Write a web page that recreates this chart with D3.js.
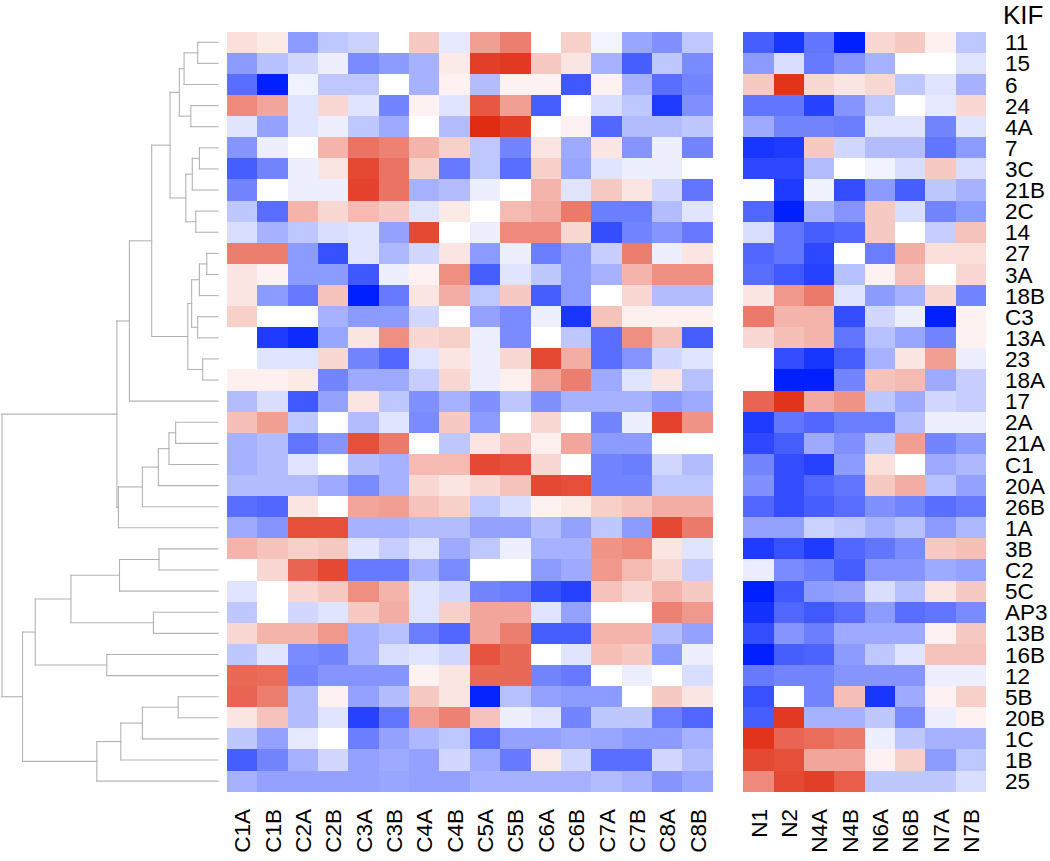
<!DOCTYPE html>
<html>
<head>
<meta charset="utf-8">
<script src="https://cdn.jsdelivr.net/npm/d3@7"></script>
<style>
  html, body { margin: 0; padding: 0; background: #ffffff; }
  svg { display: block; }
  text { font-family: "Liberation Sans", Arial, sans-serif; fill: #000; }
</style>
</head>
<body>
<svg id="chart" width="1050" height="861"></svg>
<script>
// ---------------- DATA ----------------
const rowLabels = ["11","15","6","24","4A","7","3C","21B","2C","14","27","3A","18B","C3","13A","23","18A","17","2A","21A","C1","20A","26B","1A","3B","C2","5C","AP3","13B","16B","12","5B","20B","1C","1B","25"];
const colsC = ["C1A","C1B","C2A","C2B","C3A","C3B","C4A","C4B","C5A","C5B","C6A","C6B","C7A","C7B","C8A","C8B"];
const colsN = ["N1","N2","N4A","N4B","N6A","N6B","N7A","N7B"];
const rowTitle = "KIF";

// relative expression (blue = low, red = high), one row per KIF gene
const valuesC = [
  [ 0.15, 0.10,-0.45,-0.25,-0.20, 0.00, 0.25,-0.10, 0.45, 0.60, 0.00, 0.22,-0.05,-0.40,-0.50,-0.25],
  [-0.45,-0.28,-0.18,-0.07,-0.52,-0.45,-0.35, 0.10, 0.90, 0.92, 0.25, 0.12,-0.35,-0.72,-0.25,-0.52],
  [-0.65,-1.00,-0.06,-0.25,-0.25, 0.00,-0.35, 0.06,-0.30, 0.06, 0.06,-0.75, 0.06,-0.35,-0.65,-0.55],
  [ 0.55, 0.42,-0.12, 0.18,-0.12,-0.55, 0.06,-0.12, 0.78, 0.45,-0.72, 0.00,-0.15,-0.25,-0.88,-0.50],
  [-0.12,-0.42,-0.12,-0.07,-0.25,-0.38, 0.00,-0.30, 0.98, 0.90, 0.00, 0.06,-0.68,-0.30,-0.30,-0.25],
  [-0.48,-0.07, 0.00, 0.35, 0.65, 0.58, 0.35, 0.22,-0.25,-0.55, 0.12,-0.38, 0.12,-0.48,-0.07,-0.55],
  [-0.72,-0.55,-0.07, 0.12, 0.85, 0.65, 0.22,-0.60,-0.25,-0.65, 0.22,-0.40,-0.12,-0.07,-0.07, 0.00],
  [-0.55, 0.00,-0.07,-0.07, 0.88, 0.65,-0.35,-0.30,-0.07, 0.00, 0.35,-0.12, 0.25, 0.12,-0.18,-0.62],
  [-0.25,-0.65, 0.35, 0.18, 0.32, 0.25,-0.12, 0.10, 0.00, 0.32, 0.38, 0.62,-0.58,-0.58,-0.30,-0.12],
  [-0.15,-0.35,-0.25,-0.15,-0.12,-0.42, 0.85, 0.00,-0.07, 0.55, 0.55, 0.18,-0.80,-0.55,-0.48,-0.60],
  [ 0.60, 0.60,-0.45,-0.78,-0.12,-0.32,-0.18, 0.12,-0.45,-0.07,-0.58,-0.45,-0.22, 0.60,-0.07, 0.12],
  [ 0.12, 0.06,-0.45,-0.45,-0.75,-0.07, 0.06, 0.52,-0.72,-0.12,-0.25,-0.45,-0.35, 0.35, 0.52, 0.52],
  [ 0.12,-0.45,-0.60, 0.28,-1.00,-0.60, 0.12, 0.38,-0.25, 0.25,-0.72,-0.45, 0.00, 0.18,-0.30,-0.30],
  [ 0.22, 0.00, 0.00,-0.35,-0.45,-0.45,-0.18, 0.00,-0.42,-0.52,-0.07,-0.90, 0.28, 0.07, 0.07, 0.07],
  [ 0.00,-0.88,-0.95,-0.40, 0.12, 0.52, 0.18, 0.22,-0.07,-0.52, 0.00,-0.25,-0.65, 0.52, 0.28,-0.72],
  [ 0.00,-0.12,-0.12, 0.18,-0.55,-0.68,-0.12, 0.12,-0.07, 0.18, 0.85, 0.38,-0.65,-0.48,-0.18,-0.12],
  [ 0.07, 0.07, 0.10,-0.55,-0.38,-0.38,-0.22, 0.18,-0.07, 0.07, 0.42, 0.60,-0.38,-0.12, 0.12,-0.28],
  [-0.30,-0.15,-0.75,-0.42, 0.12,-0.25,-0.50,-0.35,-0.50,-0.25,-0.50,-0.35,-0.35,-0.35,-0.45,-0.38],
  [ 0.30, 0.45,-0.25, 0.00,-0.30,-0.12,-0.52, 0.25,-0.45, 0.00, 0.18, 0.00,-0.55,-0.07, 0.88, 0.50],
  [-0.35,-0.30,-0.62,-0.48, 0.82, 0.62, 0.00,-0.25, 0.12, 0.25, 0.07, 0.42,-0.45,-0.45, 0.00, 0.00],
  [-0.35,-0.30,-0.12, 0.00,-0.30,-0.35, 0.32, 0.32, 0.85, 0.82, 0.18, 0.00,-0.55,-0.58,-0.18,-0.30],
  [-0.30,-0.30,-0.30,-0.38,-0.52,-0.35, 0.18, 0.12, 0.18, 0.28, 0.85, 0.82,-0.55,-0.55,-0.25,-0.25],
  [-0.65,-0.68, 0.12, 0.00, 0.42, 0.45, 0.28, 0.22,-0.25,-0.15, 0.06, 0.10, 0.22, 0.28, 0.38, 0.38],
  [-0.38,-0.48, 0.82, 0.82,-0.35,-0.35,-0.30,-0.30,-0.42,-0.42,-0.30,-0.42,-0.25,-0.45, 0.85, 0.62],
  [ 0.35, 0.28, 0.22, 0.25,-0.12,-0.22,-0.12,-0.38,-0.25,-0.07,-0.35,-0.35, 0.50, 0.55, 0.12,-0.12],
  [ 0.00, 0.18, 0.72, 0.85,-0.60,-0.60,-0.35,-0.52, 0.00, 0.00,-0.45,-0.38, 0.48, 0.32, 0.18,-0.22],
  [-0.12, 0.00, 0.18, 0.25, 0.52, 0.35,-0.12,-0.18,-0.55,-0.58,-0.78,-0.85, 0.28, 0.18, 0.35, 0.25],
  [-0.25, 0.00,-0.18,-0.12, 0.25, 0.38,-0.12, 0.22, 0.42, 0.42,-0.12,-0.42, 0.00, 0.00, 0.58, 0.48],
  [ 0.18, 0.35, 0.35, 0.48,-0.35,-0.28,-0.58,-0.68, 0.42, 0.60,-0.72,-0.72, 0.35, 0.35,-0.30,-0.42],
  [-0.25,-0.12,-0.52,-0.55,-0.35,-0.15,-0.12,-0.18, 0.80, 0.70, 0.00,-0.12, 0.30, 0.25,-0.45,-0.07],
  [ 0.70, 0.68,-0.55,-0.48,-0.48,-0.48, 0.06, 0.12, 0.70, 0.70,-0.55,-0.60, 0.00,-0.07, 0.00,-0.15],
  [ 0.72, 0.60,-0.30, 0.06,-0.42,-0.30, 0.25, 0.12,-0.98,-0.28,-0.42,-0.45,-0.45, 0.00, 0.25, 0.12],
  [ 0.12, 0.28,-0.30,-0.12,-0.85,-0.62, 0.45, 0.58, 0.28,-0.07,-0.12,-0.55,-0.25,-0.25,-0.58,-0.68],
  [-0.25,-0.42,-0.10, 0.00,-0.58,-0.42,-0.32,-0.25,-0.65,-0.42,-0.42,-0.38,-0.40,-0.45,-0.45,-0.35],
  [-0.72,-0.55,-0.35,-0.18,-0.42,-0.38,-0.42,-0.18,-0.38,-0.60, 0.10,-0.18,-0.65,-0.65,-0.18,-0.30],
  [-0.35,-0.42,-0.42,-0.42,-0.42,-0.40,-0.42,-0.42,-0.35,-0.35,-0.35,-0.35,-0.30,-0.35,-0.48,-0.40]
];

const valuesN = [
  [-0.72,-0.90,-0.62,-1.00, 0.18, 0.25, 0.07,-0.25],
  [-0.45,-0.15,-0.60,-0.48,-0.35, 0.00, 0.00,-0.12],
  [ 0.25, 0.95, 0.18, 0.12, 0.18,-0.25,-0.12,-0.35],
  [-0.62,-0.62,-0.85,-0.48,-0.25, 0.00,-0.10, 0.18],
  [-0.38,-0.55,-0.55,-0.58,-0.12,-0.12,-0.55,-0.12],
  [-0.90,-0.88, 0.25,-0.18,-0.30,-0.30,-0.62,-0.45],
  [-0.82,-0.82,-0.30, 0.00,-0.06,-0.15, 0.25,-0.15],
  [ 0.00,-0.88,-0.06,-0.80,-0.45,-0.72,-0.25,-0.35],
  [-0.68,-1.00,-0.35,-0.48, 0.25,-0.15,-0.55,-0.45],
  [-0.15,-0.62,-0.72,-0.68, 0.25, 0.00,-0.22, 0.28],
  [-0.68,-0.62,-0.82, 0.00,-0.58, 0.38, 0.15, 0.15],
  [-0.65,-0.75,-0.85,-0.28, 0.06, 0.28, 0.00, 0.18],
  [ 0.12, 0.48, 0.62,-0.12,-0.45,-0.35, 0.18,-0.55],
  [ 0.62, 0.35, 0.35,-0.80,-0.18,-0.07,-1.00, 0.06],
  [ 0.18, 0.30, 0.35,-0.62,-0.28,-0.40,-0.55, 0.06],
  [ 0.00,-0.80,-0.90,-0.72,-0.35, 0.12, 0.45,-0.07],
  [ 0.00,-1.00,-1.00,-0.55, 0.28, 0.32,-0.38,-0.22],
  [ 0.72, 0.95, 0.40, 0.50,-0.25,-0.38,-0.18,-0.22],
  [-0.88,-0.62,-0.68,-0.58,-0.58,-0.30,-0.07,-0.07],
  [-0.82,-0.72,-0.38,-0.50,-0.25, 0.45,-0.55,-0.45],
  [-0.55,-0.80,-0.85,-0.45, 0.15, 0.00,-0.38,-0.32],
  [-0.50,-0.80,-0.68,-0.62, 0.25, 0.38,-0.28,-0.42],
  [-0.68,-0.80,-0.72,-0.65,-0.50,-0.55,-0.65,-0.60],
  [-0.42,-0.42,-0.20,-0.25,-0.35,-0.28,-0.45,-0.32],
  [-0.88,-0.78,-0.88,-0.68,-0.62,-0.52, 0.25, 0.30],
  [-0.08,-0.52,-0.58,-0.72,-0.48,-0.48,-0.38,-0.42],
  [-1.00,-0.75,-0.45,-0.42,-0.15,-0.28, 0.12, 0.25],
  [-0.92,-0.68,-0.75,-0.65,-0.45,-0.65,-0.62,-0.52],
  [-0.80,-0.48,-0.58,-0.38,-0.38,-0.38, 0.06, 0.25],
  [-1.00,-0.72,-0.70,-0.45,-0.25,-0.12, 0.28, 0.28],
  [-0.60,-0.55,-0.55,-0.48,-0.48,-0.48,-0.07,-0.07],
  [-0.78, 0.00,-0.55, 0.30,-0.90,-0.38, 0.06, 0.22],
  [-0.72, 0.92,-0.35,-0.35,-0.25,-0.52,-0.07, 0.06],
  [ 0.95, 0.72, 0.68, 0.62,-0.07,-0.25,-0.35,-0.35],
  [ 0.85, 0.82, 0.42, 0.42, 0.06, 0.22,-0.45,-0.25],
  [ 0.55, 0.85, 0.90, 0.75,-0.25,-0.25,-0.25,-0.15]
];

// row dendrogram, hclust style: negative = leaf (1-based row), positive = earlier merge (1-based)
const merges = [
  [-1,-2,0.094],[-3,1,0.157],[-4,-5,0.126],[2,3,0.179],[-6,-7,0.086],
  [-8,5,0.119],[-9,-10,0.103],[6,7,0.149],[4,8,0.222],[-11,-12,0.052],
  [-13,10,0.086],[-14,-15,0.094],[11,12,0.122],[-16,-17,0.071],[13,14,0.140],
  [9,15,0.307],[-18,16,0.410],[-19,-20,0.196],[-21,18,0.227],[-22,19,0.276],
  [-23,20,0.350],[-24,21,0.461],[17,22,0.468],[-25,-26,0.273],[-27,24,0.456],
  [-28,-29,0.299],[25,26,0.681],[-30,-31,0.515],[27,28,0.846],[-32,-33,0.184],
  [-34,30,0.350],[-35,31,0.450],[-36,32,0.561],[29,33,0.905],[23,34,1.000]
];

// ---------------- LAYOUT ----------------
const svg = d3.select("#chart");
const gTop = 31.7, gBottom = 791.7;
const leftL = 227, leftR = 712.7, rightL = 743.3, rightR = 986;

const y = d3.scaleBand().domain(rowLabels).range([gTop, gBottom]).paddingInner(0);
const xC = d3.scaleBand().domain(colsC).range([leftL, leftR]).paddingInner(0);
const xN = d3.scaleBand().domain(colsN).range([rightL, rightR]).paddingInner(0);
const color = d3.scaleLinear().domain([-1, 0, 1])
  .range(["#0020ff", "#ffffff", "#e0280f"]).clamp(true);
const xDen = d3.scaleLinear().domain([0, 1]).range([218, 2]);

function drawBlock(values, cols, xs) {
  const cells = [];
  values.forEach((row, i) => row.forEach((v, j) => cells.push({r: rowLabels[i], c: cols[j], v})));
  svg.append("g").selectAll("rect").data(cells).join("rect")
    .attr("x", d => xs(d.c))
    .attr("y", d => y(d.r))
    .attr("width", xs.bandwidth() + 0.4)
    .attr("height", y.bandwidth() + 0.4)
    .attr("fill", d => color(d.v))
    .attr("shape-rendering", "crispEdges");
}
drawBlock(valuesC, colsC, xC);
drawBlock(valuesN, colsN, xN);

// ---------------- DENDROGRAM ----------------
const nodeY = [], nodeH = [];
function yOf(k) { return k < 0 ? y(rowLabels[-k - 1]) + y.bandwidth() / 2 : nodeY[k - 1]; }
function hOf(k) { return k < 0 ? 0 : nodeH[k - 1]; }
const segs = [];
merges.forEach((m, i) => {
  const [a, b, h] = m;
  const ya = yOf(a), yb = yOf(b);
  nodeY[i] = (ya + yb) / 2; nodeH[i] = h;
  segs.push([xDen(h), ya, xDen(h), yb]);
  segs.push([xDen(h), ya, xDen(hOf(a)), ya]);
  segs.push([xDen(h), yb, xDen(hOf(b)), yb]);
});
svg.append("g").selectAll("line").data(segs).join("line")
  .attr("x1", d => d[0]).attr("y1", d => d[1])
  .attr("x2", d => d[2]).attr("y2", d => d[3])
  .attr("stroke", "#b3b3b3").attr("stroke-width", 1.1)
  .attr("stroke-linecap", "square");

// ---------------- LABELS ----------------
const fs = 22.5, cap = 0.716 * fs;
svg.append("g").selectAll("text").data(rowLabels).join("text")
  .attr("x", 1005)
  .attr("y", d => y(d) + y.bandwidth() / 2 + cap / 2)
  .attr("font-size", fs)
  .text(d => d);

svg.append("text").attr("x", 1003).attr("y", 23.5)
  .attr("font-size", 26).text(rowTitle);

function colLabels(cols, xs) {
  svg.append("g").selectAll("text").data(cols).join("text")
    .attr("transform", d => `translate(${xs(d) + xs.bandwidth() / 2 + cap / 2},809) rotate(-90)`)
    .attr("text-anchor", "end")
    .attr("font-size", fs)
    .text(d => d);
}
colLabels(colsC, xC);
colLabels(colsN, xN);
</script>
</body>
</html>
